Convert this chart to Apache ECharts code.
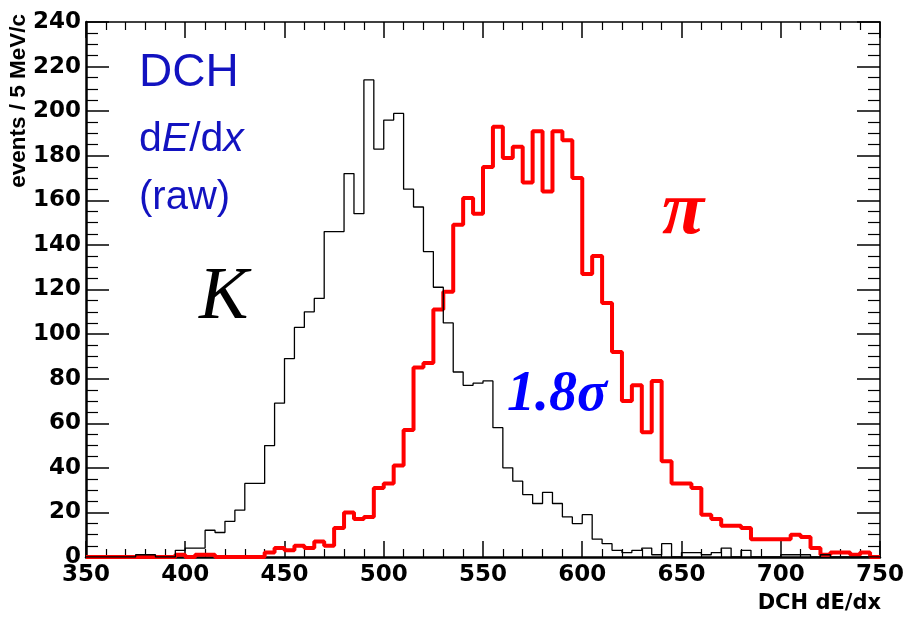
<!DOCTYPE html>
<html>
<head>
<meta charset="utf-8">
<script src="https://cdn.jsdelivr.net/npm/echarts@6/dist/echarts.min.js"></script>
<style>
html,body{margin:0;padding:0;background:#fff;}
#chart{width:907px;height:617px;}
</style>
</head>
<body>
<div id="chart"></div>
<script>
// Bin layout: 80 bins of 5 MeV from 350 to 750
const binStart = 350;
const binWidth = 5;
// K (black) histogram contents, one per bin
const kaonCounts = [0,0,0,0,0,1,1,0,0,3,
                    4,4,12,11,16,21,33,33,50,69,
                    89,103,110,116,146,146,172,154,214,183,
                    196,199,165,157,137,121,105,83,77,78,
                    79,58,40,34,28,24,29,24,18,15,
                    19,8,6,3,2,3,4,1,6,0,
                    2,2,1,2,4,0,3,0,0,0,
                    1,1,1,0,1,0,0,0,0,0];
// pi (red) histogram contents, one per bin
const pionCounts = [0,0,0,0,0,0,0,0,0,1,
                    0,1,1,0,0,0,0,0,2,4,
                    3,5,4,7,5,13,20,17,18,31,
                    33,41,57,85,87,111,119,149,161,154,
                    175,193,179,184,168,191,164,191,187,170,
                    127,135,114,92,70,77,56,79,43,33,
                    33,31,19,17,14,14,13,8,8,8,
                    8,10,9,4,1,2,2,1,2,0];
const xTicks = [350,400,450,500,550,600,650,700,750];
const yTicks = [0,20,40,60,80,100,120,140,160,180,200,220,240];

function stepPoints(counts){
  const pts = counts.map((v,i)=>[binStart + i*binWidth, v]);
  pts.push([binStart + counts.length*binWidth, counts[counts.length-1]]);
  return pts;
}

const chart = echarts.init(document.getElementById('chart'));
const labelFont = {fontFamily:'DejaVu Sans, sans-serif', fontWeight:'bold', fontSize:23, color:'#000'};
function xAx(pos, showLabel){
  return {
    type:'value', position:pos, min:xTicks[0], max:xTicks[xTicks.length-1], interval:50,
    axisLine:{show:true, onZero:false, lineStyle:{color:'#000', width: pos==='bottom'?2.5:1.5}},
    axisTick:{show:true, inside:true, length:16, lineStyle:{color:'#000', width:1.5}},
    minorTick:{show:true, splitNumber:5, length:8, lineStyle:{color:'#000', width:1.2}},
    axisLabel:Object.assign({show:showLabel, margin:7}, labelFont),
    splitLine:{show:false}
  };
}
function yAx(pos, showLabel){
  return {
    type:'value', position:pos, min:yTicks[0], max:yTicks[yTicks.length-1], interval:20,
    axisLine:{show:true, onZero:false, lineStyle:{color:'#000', width: pos==='left'?2.5:1.5}},
    axisTick:{show:true, inside:true, length:23, lineStyle:{color:'#000', width:1.5}},
    minorTick:{show:true, splitNumber:4, length:12, lineStyle:{color:'#000', width:1.2}},
    axisLabel:Object.assign({show:showLabel, margin:5}, labelFont),
    splitLine:{show:false}
  };
}

chart.setOption({
  animation:false,
  backgroundColor:'#fff',
  grid:{left:86, right:24, top:22, bottom:60, containLabel:false},
  xAxis:[xAx('bottom', true), xAx('top', false)],
  yAxis:[yAx('left', true), yAx('right', false)],
  series:[
    {type:'line', step:'end', xAxisIndex:0, yAxisIndex:0, data:stepPoints(pionCounts),
     showSymbol:false, lineStyle:{color:'#ff0000', width:4}, z:2},
    {type:'line', step:'end', xAxisIndex:0, yAxisIndex:0, data:stepPoints(kaonCounts),
     showSymbol:false, lineStyle:{color:'#000', width:1.3}, z:3}
  ],
  graphic:[
    {type:'text', left:139, top:50, style:{text:'DCH', fill:'#1212c0', font:'46px "Liberation Sans", Arial, sans-serif'}},
    {type:'text', left:139, top:119, style:{
      text:'{n|d}{i|E}{n|/d}{i|x}',
      rich:{
        n:{fill:'#1212c0', fontSize:41, fontFamily:'Liberation Sans, Arial, sans-serif'},
        i:{fill:'#1212c0', fontSize:41, fontStyle:'italic', fontFamily:'Liberation Sans, Arial, sans-serif'}
      }}},
    {type:'text', left:139, top:178, style:{text:'(raw)', fill:'#1212c0', font:'40px "Liberation Sans", Arial, sans-serif'}},
    {type:'text', left:199, top:262, style:{text:'K', fill:'#000', font:'italic 74px "Liberation Serif", "Times New Roman", serif'}},
    {type:'text', left:662, top:175, style:{text:'π', fill:'#ff0000', font:'italic bold 77px "Liberation Serif", "Times New Roman", serif'}},
    {type:'text', left:507, top:368, style:{text:'1.8σ', fill:'#0000ff', font:'italic bold 56px "Liberation Serif", "Times New Roman", serif'}},
    {type:'text', right:26, top:593, style:{text:'DCH dE/dx', fill:'#000', font:'bold 21px "DejaVu Sans", sans-serif'}},
    {type:'text', left:7, top:14, rotation:Math.PI/2, style:{text:'events / 5 MeV/c', fill:'#000', font:'bold 22.5px "Liberation Sans", Arial, sans-serif'}}
  ]
});
</script>
</body>
</html>
